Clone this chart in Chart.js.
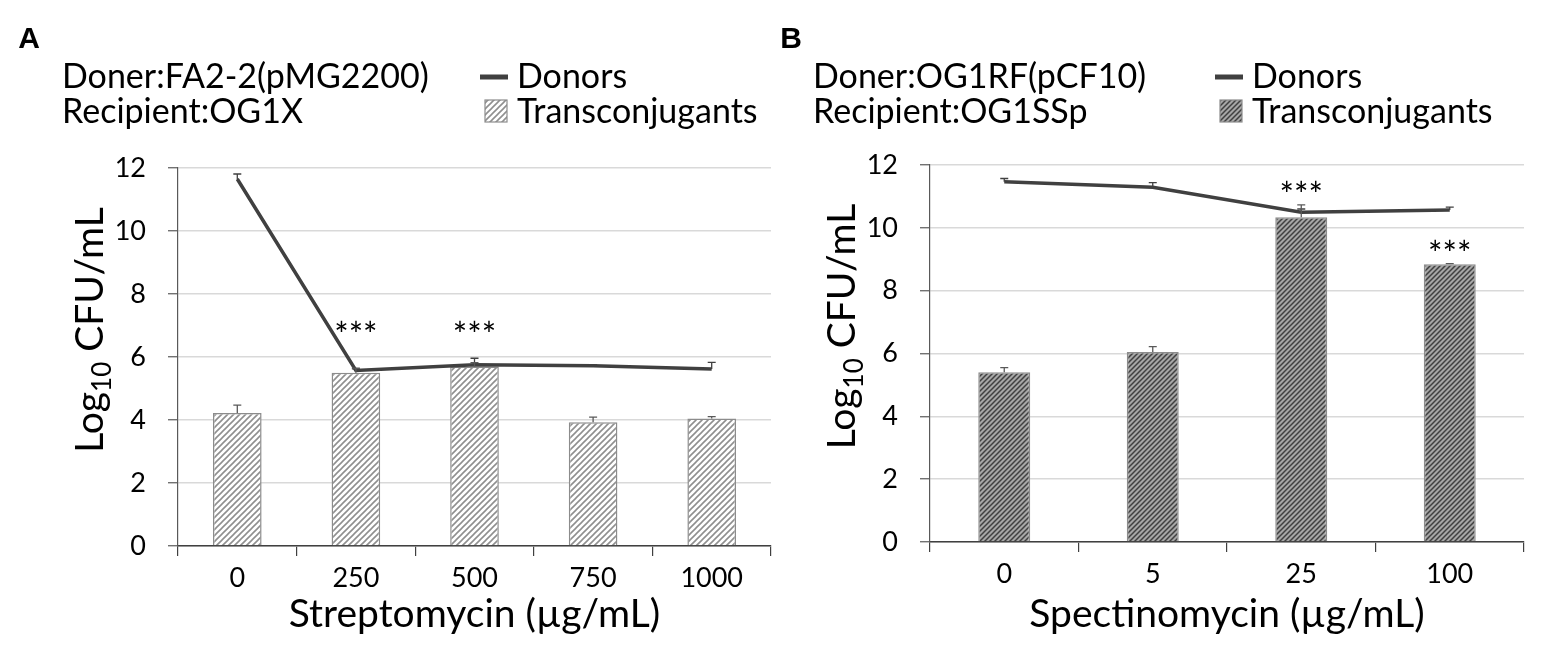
<!DOCTYPE html>
<html>
<head>
<meta charset="utf-8">
<script src="https://cdn.jsdelivr.net/npm/chart.js@4.4.1/dist/chart.umd.min.js"></script>
<style>
html, body { margin: 0; padding: 0; background: #fff; }
#wrap { position: relative; width: 1562px; height: 658px; overflow: hidden; }
.panel { position: absolute; top: 0; width: 781px; height: 658px; }
</style>
</head>
<body>
<div id="wrap">
  <div class="panel" style="left:0"><canvas id="chartA"></canvas></div>
  <div class="panel" style="left:781px"><canvas id="chartB"></canvas></div>
</div>
<script>
// values, log10 CFU/mL (errors are upper bars only)
const doseA = ['0', '250', '500', '750', '1000'];
const donorsA = [11.65, 5.57, 5.75, 5.72, 5.62];
const donorsErrA = [0.16, 0.05, 0.21, 0.03, 0.21];
const transA = [4.22, 5.50, 5.70, 3.93, 4.05];
const transErrA = [0.25, 0.15, 0.12, 0.16, 0.06];
const starsA = [null, 6.92, 6.92, null, null];

const doseB = ['0', '5', '25', '100'];
const donorsB = [11.47, 11.29, 10.50, 10.57];
const donorsErrB = [0.10, 0.15, 0.10, 0.09];
const transB = [5.40, 6.05, 10.34, 8.84];
const transErrB = [0.15, 0.17, 0.39, 0.02];
const starsB = [null, null, 11.26, 9.40];

const yMin = 0, yMax = 12, yStep = 2;

Chart.defaults.font.family = 'Lato';

function hatch(bg, fg, size, lw) {
    const c = document.createElement('canvas');
    c.width = c.height = size;
    const x = c.getContext('2d');
    x.fillStyle = bg;
    x.fillRect(0, 0, size, size);
    x.strokeStyle = fg;
    x.lineWidth = lw;
    x.beginPath();
    x.moveTo(0, size); x.lineTo(size, 0);
    x.moveTo(-size / 2, size / 2); x.lineTo(size / 2, -size / 2);
    x.moveTo(size / 2, size * 1.5); x.lineTo(size * 1.5, size / 2);
    x.stroke();
    return x.createPattern(c, 'repeat');
}

const errorBars = {
    id: 'errorBars',
    afterDatasetsDraw(chart) {
        const ctx = chart.ctx, y = chart.scales.y;
        chart.data.datasets.forEach((ds, di) => {
            if (!ds.errUp) return;
            const meta = chart.getDatasetMeta(di);
            ctx.save();
            ctx.strokeStyle = ds.errColor;
            ctx.lineWidth = 1.3;
            meta.data.forEach((el, i) => {
                const y0 = y.getPixelForValue(ds.data[i]);
                const y1 = y.getPixelForValue(ds.data[i] + ds.errUp[i]);
                ctx.beginPath();
                ctx.moveTo(el.x, y0); ctx.lineTo(el.x, y1);
                ctx.moveTo(el.x - 4, y1); ctx.lineTo(el.x + 4, y1);
                ctx.stroke();
            });
            ctx.restore();
        });
    }
};

const deco = {
    id: 'deco',
    afterDraw(chart, args, o) {
        const ctx = chart.ctx, area = chart.chartArea;
        ctx.save();
        ctx.textBaseline = 'alphabetic';
        ctx.fillStyle = '#000';

        // panel letter
        ctx.font = 'bold 30px "Liberation Sans"';
        ctx.textAlign = 'center';
        ctx.fillText(o.letter, o.letterX, 48);

        // strain header
        ctx.font = '34px Lato';
        ctx.textAlign = 'left';
        ctx.fillText(o.lines[0], o.textX, 88);
        ctx.fillText(o.lines[1], o.textX, 123);

        // legend
        const lx = o.legendX;
        ctx.fillStyle = '#404040';
        ctx.fillRect(lx, 74.5, 28, 5);
        ctx.fillStyle = o.pattern;
        ctx.fillRect(lx + 5, 100, 22, 22);
        ctx.strokeStyle = '#8c8c8c';
        ctx.lineWidth = 1.2;
        ctx.strokeRect(lx + 5, 100, 22, 22);
        ctx.fillStyle = '#000';
        ctx.fillText('Donors', lx + 37, 88);
        ctx.fillText('Transconjugants', lx + 37, 123);

        // significance stars above bars
        const bars = chart.getDatasetMeta(1).data;
        ctx.font = '34px Lato';
        ctx.textAlign = 'center';
        o.stars.forEach((v, i) => {
            if (v == null) return;
            ctx.fillText('***', bars[i].x, chart.scales.y.getPixelForValue(v) + 19);
        });

        // y title with subscript
        ctx.translate(area.left - 75, (area.top + area.bottom) / 2 - 27);
        ctx.rotate(-Math.PI / 2);
        ctx.textAlign = 'left';
        ctx.font = '39px Lato';
        const w1 = ctx.measureText('Log').width;
        const w3 = ctx.measureText(' CFU/mL').width;
        ctx.font = '26px Lato';
        const w2 = ctx.measureText('10').width;
        let x = -(w1 + w2 + w3) / 2;
        ctx.font = '39px Lato';
        ctx.fillText('Log', x, 0); x += w1;
        ctx.font = '26px Lato';
        ctx.fillText('10', x, 8); x += w2;
        ctx.font = '39px Lato';
        ctx.fillText(' CFU/mL', x, 0);
        ctx.restore();
    }
};

function makeChart(id, labels, donors, donorsErr, trans, transErr, stars, p) {
    return new Chart(document.getElementById(id), {
        data: {
            labels: labels,
            datasets: [{
                type: 'line',
                label: 'Donors',
                data: donors,
                errUp: donorsErr,
                errColor: '#404040',
                borderColor: '#404040',
                borderWidth: 3.5,
                pointRadius: 0,
                tension: 0,
                order: 0
            }, {
                type: 'bar',
                label: 'Transconjugants',
                data: trans,
                errUp: transErr,
                errColor: '#595959',
                backgroundColor: p.pattern,
                borderColor: '#8c8c8c',
                borderWidth: 1.5,
                barPercentage: p.barPct,
                categoryPercentage: 1,
                order: 1
            }]
        },
        options: {
            responsive: true,
            maintainAspectRatio: false,
            animation: false,
            layout: { padding: { top: p.top, right: p.right, left: 0, bottom: 0 } },
            plugins: {
                legend: { display: false },
                tooltip: { enabled: false },
                deco: {
                    letter: p.letter, letterX: p.letterX, lines: p.lines,
                    textX: p.textX, legendX: p.legendX, pattern: p.pattern, stars: stars
                }
            },
            scales: {
                x: {
                    offset: true,
                    grid: { drawOnChartArea: false, offset: true, tickLength: 10, color: '#404040', lineWidth: 1.2 },
                    border: { color: '#404040', width: 1.5 },
                    ticks: { color: '#000', font: { size: 27 }, padding: 6, maxRotation: 0 },
                    title: { display: true, text: p.xTitle, color: '#000', font: { size: 39 }, padding: { top: 0, bottom: 20 } },
                    afterFit: s => { s.height = p.xHeight; }
                },
                y: {
                    min: yMin,
                    max: yMax,
                    ticks: { stepSize: yStep, color: '#000', font: { size: 27 }, padding: 22 },
                    grid: { color: '#d9d9d9', lineWidth: 1.5, tickColor: '#595959', tickLength: 10, tickWidth: 1.2 },
                    border: { color: '#595959', width: 1.2 },
                    afterFit: s => { s.width = p.yWidth; }
                }
            }
        },
        plugins: [errorBars, deco]
    });
}

function draw() {
    makeChart('chartA', doseA, donorsA, donorsErrA, transA, transErrA, starsA, {
        letter: 'A', letterX: 29, textX: 62, legendX: 480,
        lines: ['Doner:FA2-2(pMG2200)', 'Recipient:OG1X'],
        xTitle: 'Streptomycin (\u00b5g/mL)',
        pattern: hatch('#ffffff', '#8f8f8f', 6, 1.6),
        barPct: 0.41, top: 168, right: 10, yWidth: 178, xHeight: 112
    });
    makeChart('chartB', doseB, donorsB, donorsErrB, transB, transErrB, starsB, {
        letter: 'B', letterX: 10, textX: 32, legendX: 434,
        lines: ['Doner:OG1RF(pCF10)', 'Recipient:OG1SSp'],
        xTitle: 'Spectinomycin (\u00b5g/mL)',
        pattern: hatch('#a6a6a6', '#404040', 5, 1.5),
        barPct: 0.35, top: 165, right: 38, yWidth: 149, xHeight: 116
    });
}

Promise.all([
    document.fonts.load('26px Lato'),
    document.fonts.load('bold 30px "Liberation Sans"')
]).then(draw, draw);
</script>
</body>
</html>
